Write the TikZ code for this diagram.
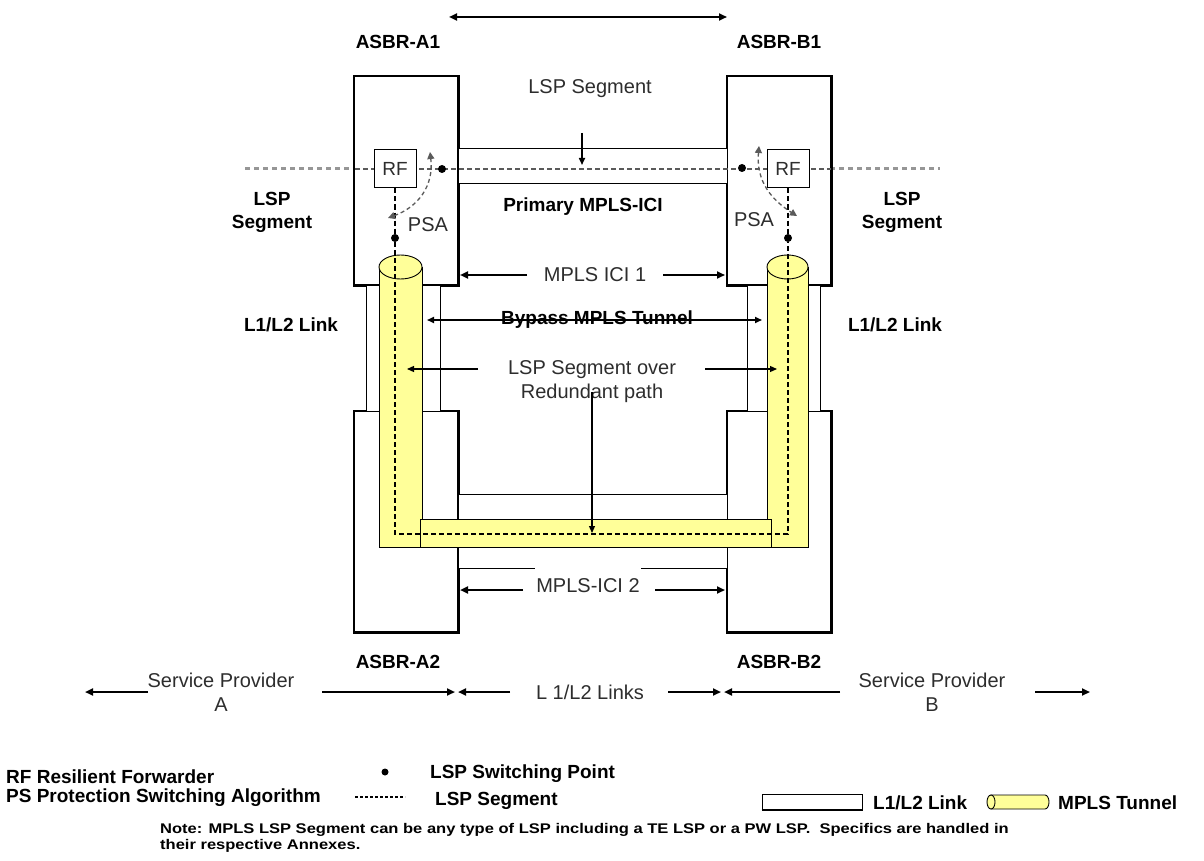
\documentclass[tikz,border=0pt]{standalone}
\usepackage{fontspec}
\usepackage{graphicx}
\setmainfont{Liberation Sans}
\usetikzlibrary{arrows.meta}
\definecolor{tunnelyellow}{RGB}{255,255,153}
\definecolor{txtgray}{RGB}{45,45,45}
\definecolor{dashgray}{RGB}{150,150,150}
\definecolor{thindash}{RGB}{90,90,90}
\begin{document}
\begin{tikzpicture}[x=1pt,y=-1pt,
  router/.style={draw, fill=white, line width=1.2pt, inner sep=0pt},
  linkbox/.style={draw, fill=white, line width=1pt, inner sep=0pt},
  rfbox/.style={draw, fill=white, line width=1pt, inner sep=0pt, minimum width=42pt, minimum height=38pt, font=\fontsize{19}{22}\selectfont, text=txtgray},
  bl/.style={font=\fontsize{19}{23}\selectfont\bfseries, inner sep=0pt, align=center},
  rg/.style={font=\fontsize{20}{24}\selectfont, text=txtgray, align=center, inner sep=1pt},
  dot/.style={circle, fill=black, minimum size=8pt, inner sep=0pt},
  thickarr/.style={line width=2.2pt, -{Triangle[length=8pt,width=7pt]}},
  midarr/.style={line width=1.6pt, -{Triangle[length=7pt,width=6pt]}},
  thinarr/.style={line width=1.2pt, -{Triangle[length=7pt,width=6pt]}},
  lspdash/.style={line width=1.3pt, dash pattern=on 5pt off 3pt},
  graydash/.style={dashgray, line width=3pt, dash pattern=on 5pt off 4pt},
  pathdash/.style={thindash, line width=1.1pt, dash pattern=on 5pt off 3pt},
  curvarr/.style={thindash, line width=1.3pt, dash pattern=on 4pt off 3pt, {Triangle[length=7pt,width=7pt]}-{Triangle[length=7pt,width=7pt]}},
  tube/.style={draw, fill=tunnelyellow, line width=0.9pt},
  notetext/.style={anchor=west, font=\fontsize{14}{16}\selectfont\bfseries, inner sep=0pt}
]
\path[use as bounding box] (0,0) rectangle (1204,861);

% heavy gray LSP segment line
\draw[graydash] (245,169) -- (940,169);

% routers
\node[router, minimum width=104pt, minimum height=209pt] (A1) at (406,180.5) {};
\node[router, minimum width=104pt, minimum height=209pt] (B1) at (779,180.5) {};
\node[router, minimum width=104pt, minimum height=221pt] (A2) at (406,521.5) {};
\node[router, minimum width=104pt, minimum height=221pt] (B2) at (779,521.5) {};
\foreach \r in {A1,B1,A2,B2}{
  \draw[line width=2.2pt] (\r.north east) -- (\r.south east) -- (\r.south west);
}

% links
\node[linkbox, minimum width=74pt, minimum height=126pt] (LA) at (403,348) {};
\node[linkbox, minimum width=73pt, minimum height=126pt] (LB) at (783.5,348) {};
\node[linkbox, minimum width=269pt, minimum height=35pt] (LP) at (592.5,166.5) {};
\node[linkbox, minimum width=269pt, minimum height=74pt] (LL) at (592.5,531) {};

% tunnel
\draw[tube] (379,267) rectangle (422,547);
\draw[tube] (767,267) rectangle (808,547);
\draw[tube] (420,519) rectangle (771,547);
\draw[tube] (400.5,267) ellipse [x radius=21.5, y radius=12];
\draw[tube] (787.5,267) ellipse [x radius=20.5, y radius=12];

% thin dashed inside routers / primary link
\draw[pathdash] (355,169) -- (831,169);

% RF boxes
\node[rfbox] (rfL) at (395,169) {RF};
\node[rfbox] (rfR) at (788,169) {RF};

% switching points
\node[dot] (dL) at (442,169) {};
\node[dot] (dR) at (742,168) {};
\node[dot] (dLb) at (395,238) {};
\node[dot] (dRb) at (788,238) {};

% LSP segment over redundant path
\draw[lspdash] (rfL.south) -- (dLb);
\draw[lspdash] (rfR.south) -- (dRb);
\draw[lspdash] (dLb) -- (395,534) -- (788,534) -- (dRb);

% PSA curved arrows
\coordinate (cL1) at (388,218);
\coordinate (cL2) at (430,152);
\coordinate (cR1) at (759,146);
\coordinate (cR2) at (797,216);
\draw[curvarr] (cL1) .. controls (418,207) and (434,186) .. (cL2);
\draw[curvarr] (cR1) .. controls (756,182) and (772,200) .. (cR2);
\node[rg] (psaL) at (428,225) {PSA};
\node[rg] (psaR) at (754,220) {PSA};

% top labels
\node[bl] (lA1) at (398,42) {ASBR-A1};
\node[bl] (lB1) at (779,42) {ASBR-B1};
\coordinate (tL) at (449,17);
\coordinate (tR) at (727,17);
\draw[line width=2.5pt, {Triangle[length=8pt,width=7pt]}-{Triangle[length=8pt,width=7pt]}] (tL) -- (tR);

\node[rg] (lspTop) at (590,89) {LSP Segment};
\coordinate (vt1) at (582,133);
\coordinate (vt2) at (582,165);
\draw[midarr] (vt1) -- (vt2);

\node[bl] (segL) at (272,212) {LSP\\Segment};
\node[bl] (segR) at (902,212) {LSP\\Segment};
\node[bl] (prim) at (583,207) {Primary MPLS-ICI};

% MPLS ICI 1
\node[rg, fill=white] (ici1) at (595,275) {MPLS ICI 1};
\coordinate (i1L) at (460,275);
\coordinate (i1R) at (725,275);
\draw[thickarr] (527,275) -- (i1L);
\draw[thickarr] (663,275) -- (i1R);

% L1/L2 link labels
\node[bl] (l12L) at (291,325) {L1/L2 Link};
\node[bl] (l12R) at (895,325) {L1/L2 Link};

% Bypass
\coordinate (byL) at (427,320);
\coordinate (byR) at (762,320);
\draw[midarr] (597,320) -- (byL);
\draw[midarr] (597,320) -- (byR);
\node[bl] (byp) at (597,320) {Bypass MPLS Tunnel};

% LSP segment over redundant path
\node[rg] (red) at (592,382) {LSP Segment over\\Redundant path};
\coordinate (rL) at (407,369);
\coordinate (rR) at (777,369);
\draw[thinarr] (478,369) -- (rL);
\draw[thinarr] (705,369) -- (rR);
\coordinate (rv1) at (592,392);
\coordinate (rv2) at (592,533);
\draw[thinarr] (rv1) -- (rv2);

% MPLS-ICI 2
\node[rg, fill=white, minimum height=45pt] (ici2) at (588,586) {MPLS-ICI 2};
\coordinate (i2L) at (460,590);
\coordinate (i2R) at (725,590);
\draw[thickarr] (523,590) -- (i2L);
\draw[thickarr] (655,590) -- (i2R);

% bottom labels
\node[bl] (lA2) at (398,662) {ASBR-A2};
\node[bl] (lB2) at (779,662) {ASBR-B2};

\node[rg] (spA) at (221,692) {Service Provider\\A};
\node[rg] (l12s) at (590,692) {L 1/L2 Links};
\node[rg] (spB) at (932,692) {Service Provider\\B};
\draw[thickarr] (148,692) -- (85,692);
\draw[thickarr] (322,692) -- (455,692);
\draw[thickarr] (510,692) -- (458,692);
\draw[thickarr] (668,692) -- (721,692);
\draw[thickarr] (840,692) -- (724,692);
\draw[thickarr] (1035,692) -- (1090,692);

% legend
\node[bl, anchor=west] (lg1) at (6,777) {RF Resilient Forwarder};
\node[bl, anchor=west] (lg2) at (6,798) {PS Protection Switching Algorithm};
\node[dot, minimum size=7pt] (lgdot) at (385,772) {};
\draw[line width=1.1pt, dash pattern=on 3pt off 2pt] (355,797) -- (405,797);
\node[bl, anchor=west] (lg3) at (430,774) {LSP Switching Point};
\node[bl, anchor=west] (lg4) at (435,801) {LSP Segment};
\node[linkbox, minimum width=100pt, minimum height=15pt] (lgl) at (812,802) {};
\draw[line width=2pt] (lgl.south west) -- (lgl.south east);
\node[bl, anchor=west] (lg5) at (873,803) {L1/L2 Link};
\draw[tube] (991,795) -- (1045,795) arc[start angle=-90, end angle=90, x radius=4, y radius=7] -- (991,809) -- cycle;
\draw[tube] (991,802) ellipse [x radius=4, y radius=7];
\node[bl, anchor=west] (lg6) at (1058,803) {MPLS Tunnel};

\node[notetext] (note1) at (160,830) {\scalebox{1.18}[1]{Note: MPLS LSP Segment can be any type of LSP including a TE LSP or a PW LSP.\ \ Specifics are handled in}};
\node[notetext] (note2) at (160,846) {\scalebox{1.18}[1]{their respective Annexes.}};
\end{tikzpicture}
\end{document}
